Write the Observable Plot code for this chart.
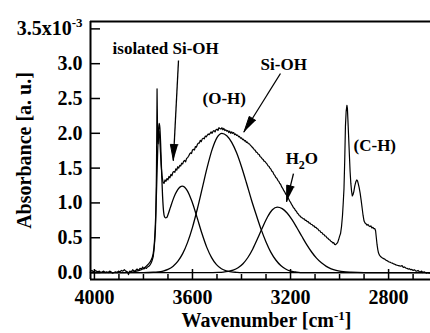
<!DOCTYPE html>
<html><head><meta charset="utf-8">
<script src="https://cdn.jsdelivr.net/npm/d3@7"></script>
<script src="https://cdn.jsdelivr.net/npm/@observablehq/plot@0.6"></script>
<style>body{margin:0;background:#fff}</style>
</head><body><div id="chart"></div>
<script>
// ---- axes ----
const xDomain = [4016, 2629];
const yDomain = [-0.1, 3.606];
const xMajor = [4000, 3600, 3200, 2800];
const xMinor = [3900, 3800, 3700, 3500, 3400, 3300, 3100, 3000, 2900, 2700];
const yTicks = [0, 0.5, 1, 1.5, 2, 2.5, 3, 3.5];
const yTickLabels = ["0.0", "0.5", "1.0", "1.5", "2.0", "2.5", "3.0", "3.5x10"];
const xTitle = "Wavenumber [cm";
const yTitle = "Absorbance [a. u.]";

// ---- measured spectrum ----
const spectrumWavenumber = [4016,4010,4004,3998,3992,3986,3980,3974,3968,3962,3956,3950,3944,3938,3932,3926,3920,3914,3908,3902,3896,3890,3884,3878,3872,3866,3861,3856,3850,3844,3838,3832,3826,3820,3814,3808,3803,3798,3793,3788,3783,3778,3773,3768,3764,3760,3757,3754,3751,3749,3747,3745.5,3744.5,3743.5,3742,3740,3738,3736,3734,3731,3728,3724,3720,3716,3712,3708,3704,3700,3696,3692,3688,3684,3680,3676,3672,3668,3664,3660,3656,3652,3648,3644,3640,3636,3632,3628,3624,3620,3616,3612,3608,3604,3600,3596,3592,3588,3584,3580,3576,3572,3568,3564,3560,3556,3552,3548,3544,3540,3536,3532,3528,3524,3520,3516,3512,3508,3504,3500,3496,3492,3488,3484,3480,3476,3472,3468,3464,3460,3456,3452,3448,3444,3440,3436,3432,3428,3424,3420,3416,3412,3408,3404,3400,3396,3392,3388,3384,3380,3376,3372,3368,3364,3360,3356,3352,3348,3344,3340,3336,3332,3328,3324,3320,3316,3312,3308,3304,3300,3296,3292,3288,3284,3280,3276,3272,3268,3264,3260,3256,3252,3248,3244,3240,3236,3232,3228,3224,3220,3216,3212,3208,3204,3200,3196,3192,3188,3184,3180,3176,3172,3168,3164,3160,3156,3152,3148,3144,3140,3136,3132,3128,3124,3120,3116,3112,3108,3104,3100,3096,3092,3088,3084,3080,3076,3072,3068,3064,3060,3056,3052,3048,3044,3040,3036,3032,3028,3024,3020,3016,3012,3008,3004,3000,2996,2992,2988,2985,2982,2979,2976,2973,2970,2968,2966,2963,2960,2957,2954,2951,2948,2945,2942,2938,2934,2930,2927,2924,2920,2916,2912,2908,2904,2900,2896,2892,2888,2884,2880,2876,2872,2868,2864,2860,2856,2853,2850,2847,2844,2841,2837,2833,2829,2825,2820,2815,2810,2805,2800,2795,2790,2785,2780,2775,2770,2765,2760,2755,2750,2745,2740,2735,2730,2725,2720,2715,2710,2705,2700,2695,2690,2685,2680,2675,2670,2665,2660,2655,2650,2645,2640,2635,2630];
const spectrumAbsorbance = [0.02,0.03,0.01,0.03,0.02,0.01,0.02,0.00,0.01,0.02,0.00,0.01,0.00,0.02,0.01,-0.01,0.00,0.01,0.00,0.02,0.01,0.03,0.02,0.04,0.02,0.01,-0.03,0.02,0.01,0.04,0.02,0.03,0.05,0.03,0.06,0.05,0.08,0.05,0.07,0.06,0.08,0.09,0.11,0.14,0.18,0.23,0.32,0.45,0.62,0.90,1.45,2.15,2.64,2.35,1.90,1.85,1.98,2.03,1.95,1.75,1.55,1.38,1.30,1.28,1.33,1.31,1.35,1.33,1.38,1.36,1.41,1.39,1.44,1.45,1.44,1.49,1.47,1.52,1.50,1.54,1.53,1.57,1.56,1.60,1.61,1.59,1.64,1.65,1.67,1.70,1.72,1.71,1.76,1.77,1.76,1.81,1.80,1.84,1.86,1.86,1.90,1.88,1.92,1.93,1.92,1.96,1.95,1.97,1.99,1.98,2.00,2.02,2.00,2.03,2.04,2.02,2.05,2.06,2.04,2.08,2.07,2.06,2.08,2.05,2.07,2.04,2.05,2.03,2.04,2.01,2.03,2.00,2.02,2.00,2.01,1.98,1.99,1.97,1.975,1.95,1.955,1.93,1.935,1.91,1.915,1.89,1.895,1.87,1.875,1.85,1.85,1.83,1.815,1.80,1.785,1.765,1.755,1.73,1.725,1.70,1.695,1.665,1.655,1.635,1.625,1.60,1.595,1.575,1.56,1.535,1.525,1.50,1.485,1.455,1.445,1.41,1.395,1.365,1.355,1.325,1.31,1.28,1.265,1.23,1.21,1.18,1.16,1.13,1.11,1.08,1.06,1.03,1.01,0.98,0.96,0.93,0.92,0.89,0.88,0.85,0.84,0.815,0.81,0.79,0.785,0.77,0.77,0.75,0.75,0.73,0.73,0.71,0.71,0.69,0.69,0.67,0.67,0.65,0.65,0.63,0.625,0.60,0.60,0.575,0.575,0.55,0.55,0.525,0.525,0.50,0.495,0.475,0.47,0.45,0.445,0.425,0.43,0.405,0.40,0.415,0.43,0.47,0.52,0.56,0.66,0.82,1.00,1.20,1.60,2.10,2.32,2.40,2.36,2.20,1.95,1.70,1.45,1.28,1.17,1.10,1.12,1.16,1.24,1.30,1.33,1.32,1.28,1.22,1.14,1.04,0.93,0.82,0.74,0.71,0.70,0.68,0.69,0.67,0.66,0.67,0.64,0.65,0.63,0.63,0.60,0.50,0.40,0.33,0.28,0.25,0.23,0.22,0.21,0.20,0.19,0.175,0.17,0.155,0.15,0.14,0.135,0.125,0.12,0.11,0.105,0.10,0.095,0.09,0.10,0.075,0.08,0.065,0.06,0.05,0.055,0.04,0.045,0.03,0.04,0.025,0.02,0.03,0.015,0.01,0.02,0.00,0.01,0.00,-0.01,0.00,-0.01,-0.01];

// ---- fitted components ----
const isolatedFitWavenumber = [4016,3900,3860,3840,3820,3800,3780,3770,3760,3755,3750,3746,3742,3739,3736,3733,3730,3726,3722,3718,3714,3710,3705,3700,3690,3680,3670,3660,3650,3642,3622,3602,3582,3562,3542,3522,3502,3482,3462,3442,3420,3400,2629];
const isolatedFitAbsorbance = [0,0,0.003,0.010,0.026,0.059,0.121,0.169,0.276,0.446,0.812,1.259,1.743,2.02,2.141,2.078,1.859,1.452,1.10,0.88,0.80,0.785,0.79,0.83,0.936,1.04,1.127,1.192,1.230,1.24,1.181,1.020,0.799,0.567,0.365,0.214,0.113,0.054,0.024,0.009,0.003,0,0];

const ohWavenumber = [4016,3800,3760,3740,3720,3700,3680,3660,3640,3620,3600,3580,3560,3540,3520,3500,3480,3460,3440,3420,3400,3380,3360,3340,3320,3300,3280,3260,3240,3220,3200,3180,3160,2629];
const ohAbsorbance = [0,0,0.004,0.010,0.022,0.046,0.088,0.159,0.271,0.433,0.649,0.916,1.213,1.51,1.765,1.938,2.0,1.965,1.87,1.72,1.52,1.29,1.05,0.83,0.62,0.44,0.29,0.18,0.10,0.05,0.02,0.008,0,0];

const waterWavenumber = [4016,3540,3494,3474,3454,3434,3414,3394,3374,3354,3334,3314,3294,3274,3254,3234,3214,3194,3174,3154,3134,3114,3094,3074,3054,3034,3014,2994,2974,2954,2900,2629];
const waterAbsorbance = [0,0,0.003,0.007,0.016,0.034,0.069,0.127,0.216,0.339,0.491,0.651,0.798,0.902,0.94,0.918,0.855,0.760,0.644,0.521,0.401,0.295,0.207,0.139,0.089,0.054,0.031,0.017,0.009,0.005,0,0];

// ---- annotations ----
const labelText = ["isolated Si-OH", "Si-OH", "(O-H)", "H2O", "(C-H)"];
const labelWavenumber = [3926, 3322, 3559, 3220, 2943];
const labelAbsorbance = [3.132, 2.916, 2.42, 1.566, 1.739];
const arrowFromWavenumber = [3657, 3241, 3188];
const arrowFromAbsorbance = [3.046, 2.859, 1.422];
const arrowToWavenumber = [3678, 3390, 3216];
const arrowToAbsorbance = [1.609, 2.019, 1.020];

// ---- build ----
const W = 430, H = 333, mL = 90, mR = 0, mT = 21, mB = 54;
const toRows = (ws, as) => ws.map((w, i) => ({w, a: as[i]}));
const spectrum = toRows(spectrumWavenumber, spectrumAbsorbance);
const isoFit = toRows(isolatedFitWavenumber, isolatedFitAbsorbance);
const ohFit = toRows(ohWavenumber, ohAbsorbance);
const waterFit = toRows(waterWavenumber, waterAbsorbance);
const labels = labelText.map((t, i) => ({t, w: labelWavenumber[i], a: labelAbsorbance[i]}));
const arrows = arrowFromWavenumber.map((w, i) => ({w1: w, a1: arrowFromAbsorbance[i], w2: arrowToWavenumber[i], a2: arrowToAbsorbance[i], id: i}));

// arrowheads: a narrow filled triangle at each tip, oriented in pixel space
const xs = d3.scaleLinear(xDomain, [mL, W - mR]);
const ys = d3.scaleLinear(yDomain, [H - mB, mT]);
const heads = [];
arrows.forEach(d => {
  const x1 = xs(d.w1), y1 = ys(d.a1), x2 = xs(d.w2), y2 = ys(d.a2);
  const L = Math.hypot(x2 - x1, y2 - y1), ux = (x2 - x1) / L, uy = (y2 - y1) / L;
  const bx = x2 - 16 * ux, by = y2 - 16 * uy, nx = -uy, ny = ux;
  [[x2, y2], [bx + 3.8 * nx, by + 3.8 * ny], [bx - 3.8 * nx, by - 3.8 * ny]].forEach(([px, py]) =>
    heads.push({id: d.id, w: xs.invert(px), a: ys.invert(py)}));
});

const font = "Liberation Serif, Times New Roman, serif";
const lineOpts = {x: "w", y: "a", stroke: "black", strokeWidth: 1.3, strokeLinejoin: "round"};

const chart = Plot.plot({
  width: W, height: H,
  marginLeft: mL, marginRight: mR, marginTop: mT, marginBottom: mB,
  style: {fontFamily: font, fontWeight: "bold", fontSize: "20px", background: "white", color: "black", overflow: "visible"},
  x: {domain: xDomain},
  y: {domain: yDomain},
  marks: [
    Plot.line(waterFit, {...lineOpts, curve: "monotone-x"}),
    Plot.line(ohFit, {...lineOpts, curve: "monotone-x"}),
    Plot.line(isoFit, {...lineOpts, curve: "monotone-x"}),
    Plot.line(spectrum, {...lineOpts, strokeWidth: 1.2}),
    Plot.link(arrows, {x1: "w1", y1: "a1", x2: "w2", y2: "a2", stroke: "black", strokeWidth: 1.3}),
    Plot.line(heads, {x: "w", y: "a", z: "id", fill: "black", stroke: "black", strokeWidth: 1}),
    Plot.text(labels, {x: "w", y: "a", text: "t", textAnchor: "start", lineAnchor: "bottom", fontSize: 17, fontWeight: "bold", fontFamily: font}),
    Plot.tickY(yTicks, {y: d => d, insetRight: W - mL - mR - 10, strokeWidth: 1.5}),
    Plot.tickX(xMajor, {x: d => d, insetTop: H - mT - mB - 10, strokeWidth: 1.5}),
    Plot.tickX(xMinor, {x: d => d, insetTop: H - mT - mB - 5, strokeWidth: 1.5}),
    Plot.ruleX([xDomain[0]], {strokeWidth: 2}),
    Plot.ruleY([yDomain[0], yDomain[1]], {strokeWidth: 2}),
    Plot.axisY({ticks: yTicks, tickSize: 0, tickPadding: 8, tickFormat: d => yTickLabels[yTicks.indexOf(d)], fontSize: 20, fontWeight: "bold", fontFamily: font, label: null}),
    Plot.axisX({ticks: xMajor, tickSize: 0, tickPadding: 10, tickFormat: d => String(d), fontSize: 20, fontWeight: "bold", fontFamily: font, label: null}),
    Plot.text([yTitle], {text: d => d, frameAnchor: "left", textAnchor: "middle", lineAnchor: "middle", dx: -66, rotate: -90, fontSize: 20, fontWeight: "bold", fontFamily: font}),
    Plot.text([xTitle], {text: d => d, frameAnchor: "bottom", textAnchor: "middle", dy: 47, dx: 6, lineAnchor: "bottom", fontSize: 20, fontWeight: "bold", fontFamily: font})
  ]
});

// superscripts / subscripts as real text
d3.select(chart).selectAll("text").each(function() {
  const t = this.textContent, s = d3.select(this);
  if (t === "3.5x10") {
    s.append("tspan").attr("dy", -8.5).attr("font-size", 13).text("-3");
  } else if (t === xTitle) {
    s.append("tspan").attr("dy", -7).attr("font-size", 13).text("-1");
    s.append("tspan").attr("dy", 7).text("]");
  } else if (t === "H2O") {
    s.text(null);
    s.append("tspan").text("H");
    s.append("tspan").attr("dy", 5).attr("font-size", 12).text("2");
    s.append("tspan").attr("dy", -5).text("O");
  }
});

document.getElementById("chart").append(chart);
</script>
</body></html>
